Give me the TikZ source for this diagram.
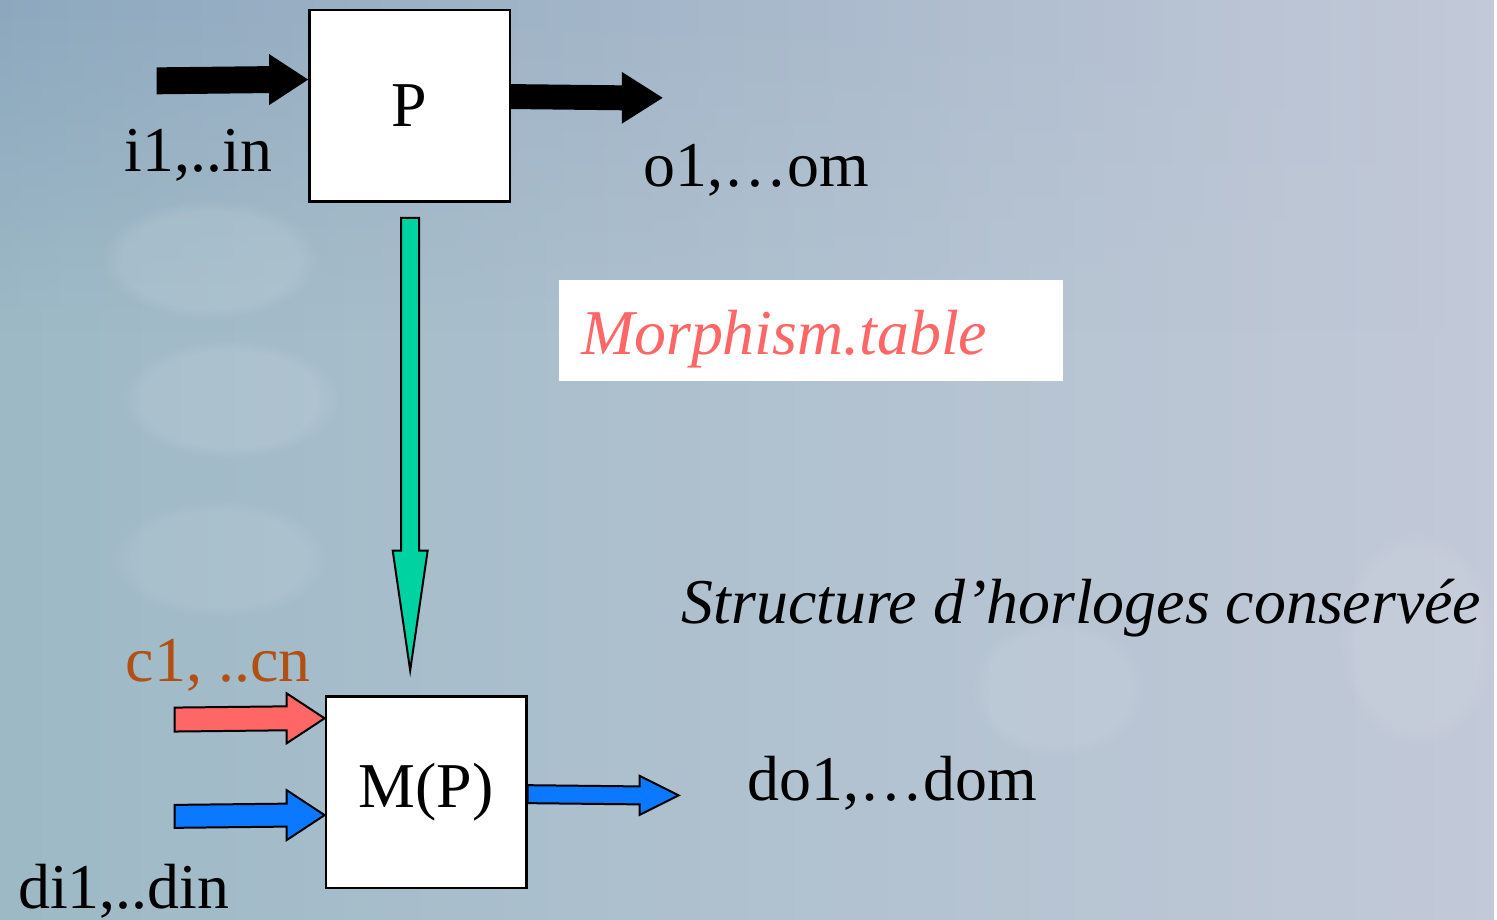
\documentclass[tikz,border=0pt]{standalone}
\usepackage{fontspec}
\setmainfont{Liberation Serif}
\usetikzlibrary{calc,fadings}
\definecolor{bgL}{HTML}{9DB9C6}
\definecolor{bgR}{HTML}{C2C9D8}
\definecolor{bgT}{HTML}{8DA8BE}
\definecolor{redA}{HTML}{FF6666}
\definecolor{blueA}{HTML}{0A78FF}
\definecolor{greenA}{HTML}{00D2A2}
\definecolor{brownT}{HTML}{B24F12}
% horizontal block arrow: style, tail, tip, shaft half, head half, head length
\newcommand\harr[6]{%
  \path[#1] ($(#2)+(0,-#4)$) -- ($(#3)+(-#6,-#4)$) -- ($(#3)+(-#6,-#5)$) -- (#3)
    -- ($(#3)+(-#6,#5)$) -- ($(#3)+(-#6,#4)$) -- ($(#2)+(0,#4)$) -- cycle;}
% vertical (downward) block arrow
\newcommand\varr[6]{%
  \path[#1] ($(#2)+(-#4,0)$) -- ($(#3)+(-#4,-#6)$) -- ($(#3)+(-#5,-#6)$) -- (#3)
    -- ($(#3)+(#5,-#6)$) -- ($(#3)+(#4,-#6)$) -- ($(#2)+(#4,0)$) -- cycle;}
\begin{document}
\begin{tikzpicture}[x=1pt,y=-1pt,
  box/.style={draw=black,line width=2.5pt,fill=white,minimum width=201pt,minimum height=192pt,inner sep=0pt},
  lbl/.style={anchor=base west,inner sep=0pt,font=\fontsize{64}{70}\selectfont},
  solidarr/.style={fill=black},
  outarr/.style={draw=black,line width=2pt,line join=miter},
  blob/.style={fill=white,path fading=circle with fuzzy edge 20 percent}
]
% background
\shade[left color=bgL,right color=bgR] (0,0) rectangle (1497,921);
\shade[left color=bgT,right color=bgR,path fading=south] (0,0) rectangle (1497,330);
\fill[blob,opacity=0.1] (210,260) ellipse (110pt and 60pt);
\fill[blob,opacity=0.1] (230,400) ellipse (110pt and 60pt);
\fill[blob,opacity=0.08] (220,560) ellipse (110pt and 60pt);
\fill[blob,opacity=0.08] (1060,690) ellipse (90pt and 70pt);
\fill[blob,opacity=0.08] (1420,640) ellipse (80pt and 110pt);
\useasboundingbox (0,0) rectangle (1497,921);

% boxes
\node[box] (P) at (410.5,106) {\fontsize{64}{70}\selectfont P};
\node[box] (MP) at (427,794) {\fontsize{64}{70}\selectfont M(P)};
\node[fill=white,minimum width=505pt,minimum height=101pt,inner sep=0pt] (morph) at (812.5,331.5) {};
\node[lbl,text=redA,font=\fontsize{64}{70}\selectfont\itshape] (morphtxt) at (582,355) {Morphism.table};

% coordinates
\coordinate (inT) at (157,81);
\coordinate (inH) at ($(P.north west)+(0,71)$);
\coordinate (outT) at ($(P.north east)+(0,88)$);
\coordinate (outH) at (664,98);
\coordinate (gT) at ($(P.south)+(0.5,15)$);
\coordinate (gH) at ($(MP.north)+(-16,-25)$);
\coordinate (cT) at (175,721);
\coordinate (cH) at ($(MP.north west)+(0,23)$);
\coordinate (dT) at (175,818);
\coordinate (dH) at ($(MP.north west)+(0,120)$);
\coordinate (doT) at ($(MP.north east)+(0,99)$);
\coordinate (doH) at (680,797);

% arrows
\harr{solidarr}{inT}{inH}{13.5}{25.5}{39}
\harr{solidarr}{outT}{outH}{12.5}{26}{41}
\varr{outarr,fill=greenA}{gT}{gH}{9}{17.5}{120}
\harr{outarr,fill=redA}{cT}{cH}{12}{25}{38}
\harr{outarr,fill=blueA}{dT}{dH}{11.5}{25}{38}
\harr{outarr,fill=blueA}{doT}{doH}{9}{19.5}{39}

% labels
\node[lbl] (il) at (125,172) {i1,..in};
\node[lbl] (ol) at (645,187) {o1,…om};
\node[lbl,text=brownT] (cl) at (126,683) {c1, ..cn};
\node[lbl] (dil) at (18,910) {di1,..din};
\node[lbl] (dol) at (749,802) {do1,…dom};
\node[lbl,font=\fontsize{64}{70}\selectfont\itshape] (struct) at (683,625) {Structure d’horloges conservée};
\end{tikzpicture}
\end{document}
